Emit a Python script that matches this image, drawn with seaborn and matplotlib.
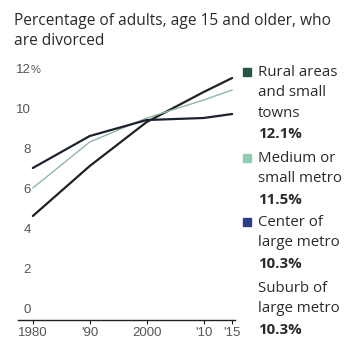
import pandas as pd
import matplotlib
matplotlib.use("Agg")
import matplotlib.pyplot as plt
import seaborn as sns
from matplotlib.patches import Rectangle

# data
years = [1980, 1990, 2000, 2010, 2015]
rural = [5.2, 7.7, 9.9, 11.4, 12.1]
medium = [6.6, 8.9, 10.1, 11.0, 11.5]
center = [7.6, 9.2, 10.0, 10.1, 10.3]

series_names = ['Rural areas and small towns', 'Medium or small metro', 'Center of large metro']
end_labels = ['12.1%', '11.5%', '10.3%', '10.3%']
legend_lines = [
    ['Rural areas', 'and small', 'towns'],
    ['Medium or', 'small metro'],
    ['Center of', 'large metro'],
    ['Suburb of', 'large metro'],
]
y_ticks = [0, 2, 4, 6, 8, 10, 12]
x_ticks = [1980, 1990, 2000, 2010, 2015]
x_tick_labels = ['1980', "'90", '2000', "'10", "'15"]

df = pd.DataFrame({
    'year': years * 3,
    'value': rural + medium + center,
    'area': [series_names[0]] * 5 + [series_names[1]] * 5 + [series_names[2]] * 5,
})

line_cols = {series_names[0]: '#1c2420', series_names[1]: '#92b5a6', series_names[2]: '#1d2230'}
marker_cols = ['#24574a', '#8fcdb0', '#2b3d86', '#ffffff']
txt = '#2a2a2a'
grey = '#555555'
tick_font = ['Liberation Sans Narrow', 'Liberation Sans']

sns.set_theme(style='white')
plt.rcParams['font.family'] = ['Open Sans', 'DejaVu Sans']

W, H = 346, 341
fig = plt.figure(figsize=(W / 100, H / 100), dpi=100)
ax = fig.add_axes([18 / W, 21 / H, (235 - 18) / W, (320 - 60) / H])

sns.lineplot(data=df, x='year', y='value', hue='area', palette=line_cols,
             linewidth=1.5, legend=False, ax=ax)
for ln, lw in zip(ax.get_lines(), [1.6, 1.0, 1.6]):
    ln.set_linewidth(lw)

ax.set_xlim(1977.4, 2015.5)
ax.set_ylim(0, 13)
ax.set_xlabel('')
ax.set_ylabel('')
ax.set_yticks([])
ax.set_xticks(x_ticks)
ax.set_xticklabels(x_tick_labels, fontsize=9.5, color=grey, family=tick_font)
ax.tick_params(axis='x', length=3, width=0.8, color='#222222', pad=2, direction='out', bottom=True)
sns.despine(ax=ax, left=True, top=True, right=True)
ax.spines['bottom'].set_color('#222222')
ax.spines['bottom'].set_linewidth(1.0)

# y labels sit just above their value
for v in y_ticks:
    ypx = 320 - v * 20 - 10
    fig.text(31 / W, 1 - ypx / H, str(v), ha='right', va='center', fontsize=9.5,
             color=grey, family=tick_font)
    if v == 12:
        fig.text(31 / W, 1 - ypx / H, '%', ha='left', va='center', fontsize=8,
                 color=grey, family=tick_font)

# title
fig.text(14 / W, 1 - 13 / H, 'Percentage of adults, age 15 and older, who\nare divorced',
         ha='left', va='top', fontsize=11.2, color=txt, linespacing=1.3)

# legend on the right
starts = [72, 158, 222, 288]
step = 20.8
for i in range(4):
    y0 = starts[i]
    fig.patches.append(Rectangle((243 / W, 1 - (y0 + 4) / H), 8 / W, 8 / H,
                                 transform=fig.transFigure, color=marker_cols[i]))
    for j, s in enumerate(legend_lines[i]):
        fig.text(258 / W, 1 - (y0 + j * step) / H, s, ha='left', va='center',
                 fontsize=10.8, color=txt)
    fig.text(258 / W, 1 - (y0 + len(legend_lines[i]) * step) / H, end_labels[i],
             ha='left', va='center', fontsize=10.8, color=txt, fontweight='bold')

fig.savefig('out.png', dpi=100, facecolor='white')
